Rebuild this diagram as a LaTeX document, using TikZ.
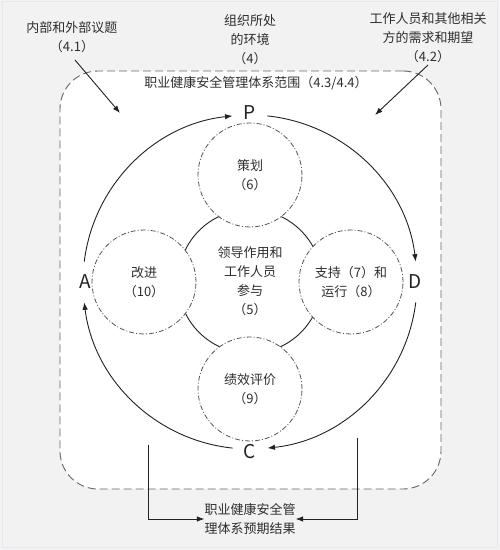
\documentclass[tikz,border=0pt]{standalone}
\usepackage{fontspec}
\setmainfont{Noto Sans CJK SC}
\usetikzlibrary{arrows.meta}
\definecolor{bg}{HTML}{F2F2F2}
\definecolor{framec}{HTML}{E3E8EF}
\definecolor{txt}{HTML}{2E2E2E}
\definecolor{ink}{HTML}{222222}
\definecolor{boxc}{HTML}{666666}
\definecolor{satc}{HTML}{555555}
\tikzset{
  lbl/.style={align=center, text=txt, inner sep=0pt, font=\fontsize{13}{19}\selectfont},
  scopebox/.style={draw=boxc, fill=white, line width=0.9pt, dash pattern=on 8pt off 4pt, rounded corners=38pt, inner sep=0pt},
  leadc/.style={circle, draw=ink, line width=0.9pt, inner sep=0pt, minimum size=144pt, align=center, text=txt, font=\fontsize{13}{19}\selectfont},
  sat/.style={circle, draw=satc, fill=white, line width=0.8pt, dash pattern=on 5pt off 2pt on 1pt off 2pt, inner sep=0pt, minimum size=104pt, align=center, text=txt, font=\fontsize{13}{19}\selectfont},
  pdca/.style={text=ink, inner sep=0pt, font=\fontsize{19}{19}\selectfont},
  arr/.style={draw=ink, line width=0.9pt, -{Latex[length=7.5pt,width=5.5pt]}},
}
\begin{document}
\begin{tikzpicture}[x=1pt,y=1pt]
\useasboundingbox (0,0) rectangle (500,550);
\fill[bg] (0,0) rectangle (500,550);
\draw[framec, line width=1pt] (2.5,2) rectangle (497.5,548);

% scope box
\node[scopebox, minimum width=381pt, minimum height=418pt] (scope) at (250.5,270) {};
\node[lbl] (title) at (256,467) {职业健康安全管理体系范围（4.3/4.4）};

% external labels
\node[lbl] (ext41) at (72,512.5) {内部和外部议题\\（4.1）};
\node[lbl] (ext4) at (250,510) {组织所处\\的环境\\（4）};
\node[lbl] (ext42) at (428,512) {工作人员和其他相关\\方的需求和期望\\（4.2）};
\coordinate (a1s) at (75,490);
\coordinate (a1e) at (120,437);
\coordinate (a2s) at (428,485);
\coordinate (a2e) at (375,435);
\draw[arr] (a1s) -- (a1e);
\draw[arr] (a2s) -- (a2e);

% center and satellites
\coordinate (ctr) at (250,268);
\node[leadc] (lead) at (250,268.5) {领导作用和\\工作人员\\参与\\（5）};
\node[sat] (plan) at (250,375) {策划\\（6）};
\node[sat] (act) at (144,268) {改进\\（10）};
\node[sat] (do) at (351,268) {支持（7）和\\运行（8）};
\node[sat] (check) at (250,161) {绩效评价\\（9）};

% PDCA
\node[pdca] (P) at (250,437) {P};
\node[pdca] (D) at (415,268) {D};
\node[pdca] (C) at (250,98) {C};
\node[pdca] (A) at (85,268) {A};

\draw[arr] ([shift={(84:167pt)}]ctr) arc[start angle=84, end angle=7, radius=167pt];
\draw[arr] ([shift={(-7:167pt)}]ctr) arc[start angle=-7, end angle=-84, radius=167pt];
\draw[arr] ([shift={(-96:167pt)}]ctr) arc[start angle=-96, end angle=-173, radius=167pt];
\draw[arr] ([shift={(173:167pt)}]ctr) arc[start angle=173, end angle=96, radius=167pt];

% outcome
\node[lbl] (out) at (250,31) {职业健康安全管\\理体系预期结果};
\coordinate (b1s) at (148,105);
\coordinate (b2s) at (357,112);
\draw[arr, line width=0.8pt] (b1s) |- (out.west);
\draw[arr, line width=0.8pt] (b2s) |- (out.east);
\end{tikzpicture}
\end{document}
